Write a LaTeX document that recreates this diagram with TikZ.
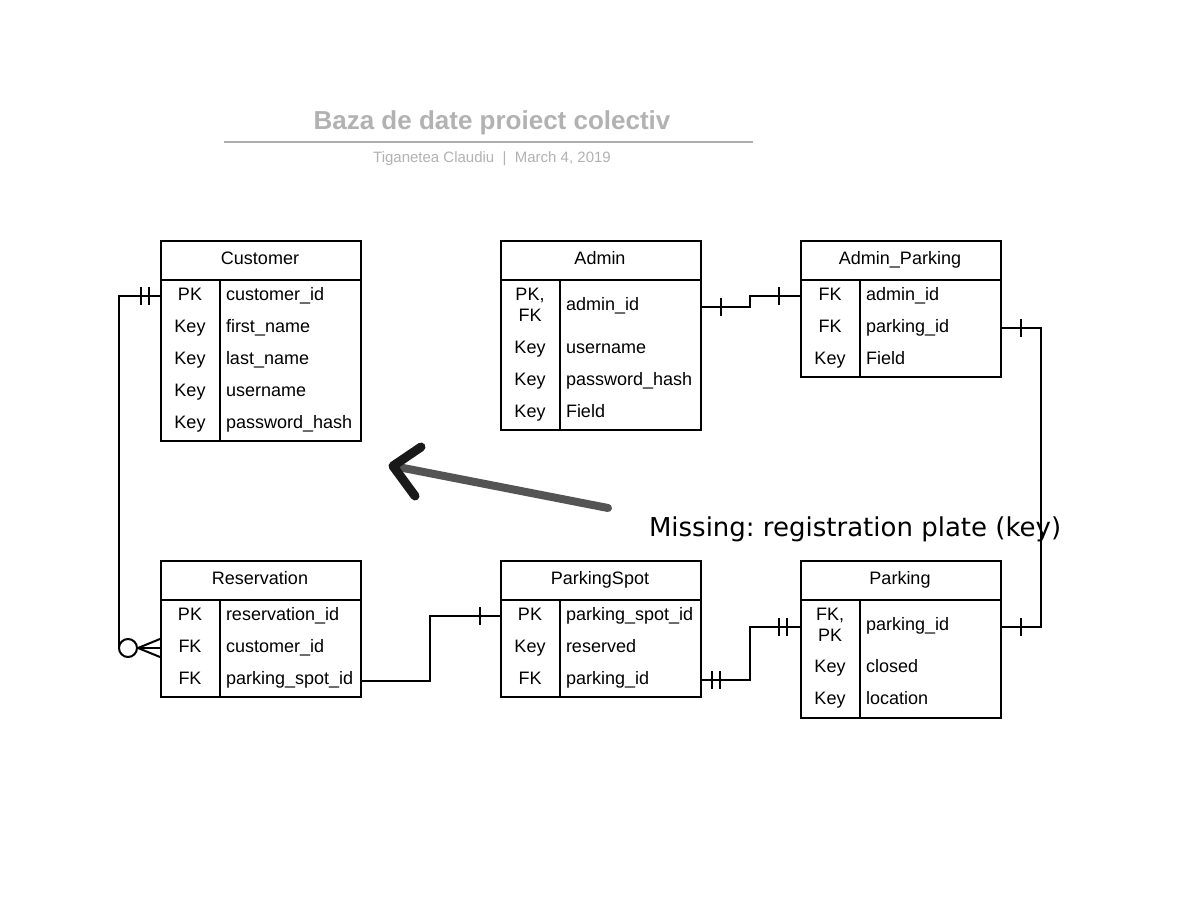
\documentclass[tikz,border=0pt]{standalone}
\usepackage{fontspec}
\setmainfont{Liberation Sans}
\newfontfamily\dejavu{DejaVu Sans}
\frenchspacing
\begin{document}
\begin{tikzpicture}[x=1pt,y=-1pt,line width=2pt,
  tbl/.style={draw,line width=2pt,anchor=north west,inner sep=0pt,minimum width=200pt},
  ktxt/.style={font=\fontsize{18}{20}\selectfont,anchor=base,inner sep=0pt},
  ftxt/.style={font=\fontsize{18}{20}\selectfont,anchor=base west,inner sep=0pt},
  conn/.style={line width=2pt},
  bar/.style={line width=2pt}]
\useasboundingbox (0,0) rectangle (1203,918);
\fill[white] (0,0) rectangle (1203,918);

% title
\node[font=\fontsize{26}{28}\selectfont\bfseries,text=black!30,anchor=base,inner sep=0pt] (title) at (492,129) {Baza de date proiect colectiv};
\draw[black!32,line width=2pt] (224,142) coordinate (tl) -- (753,142) coordinate (tr);
\node[font=\fontsize{15}{17}\selectfont,text=black!30,anchor=base,inner sep=0pt] (sub) at (492,162) {Tiganetea Claudiu~~|~~March 4, 2019};

% Customer
\node[tbl,minimum height=200pt] (customer) at (160,240) {};
\draw (160,280) -- (360,280); \draw (220,280) -- (220,440);
\node[ktxt] (customer-h) at (260,264.5) {Customer};
\node[ktxt] (c-k1) at (190,300.5) {PK};  \node[ftxt] (c-f1) at (225,300.5) {customer\_id};
\node[ktxt] (c-k2) at (190,332.5) {Key}; \node[ftxt] (c-f2) at (225,332.5) {first\_name};
\node[ktxt] (c-k3) at (190,364.5) {Key}; \node[ftxt] (c-f3) at (225,364.5) {last\_name};
\node[ktxt] (c-k4) at (190,396.5) {Key}; \node[ftxt] (c-f4) at (225,396.5) {username};
\node[ktxt] (c-k5) at (190,428.5) {Key}; \node[ftxt] (c-f5) at (225,428.5) {password\_hash};

% Admin
\node[tbl,minimum height=189pt] (admin) at (500,240) {};
\draw (500,280) -- (700,280); \draw (560,280) -- (560,429);
\node[ktxt] (admin-h) at (600,264.5) {Admin};
\node[ktxt] (a-k1a) at (530,300.5) {PK,};
\node[ktxt] (a-k1b) at (530,321.5) {FK};
\node[ftxt] (a-f1) at (565,310.5) {admin\_id};
\node[ktxt] (a-k2) at (530,353.5) {Key}; \node[ftxt] (a-f2) at (565,353.5) {username};
\node[ktxt] (a-k3) at (530,385.5) {Key}; \node[ftxt] (a-f3) at (565,385.5) {password\_hash};
\node[ktxt] (a-k4) at (530,417.5) {Key}; \node[ftxt] (a-f4) at (565,417.5) {Field};

% Admin_Parking
\node[tbl,minimum height=136pt] (adminparking) at (800,240) {};
\draw (800,280) -- (1000,280); \draw (860,280) -- (860,376);
\node[ktxt] (ap-h) at (900,264.5) {Admin\_Parking};
\node[ktxt] (ap-k1) at (830,300.5) {FK};  \node[ftxt] (ap-f1) at (865,300.5) {admin\_id};
\node[ktxt] (ap-k2) at (830,332.5) {FK};  \node[ftxt] (ap-f2) at (865,332.5) {parking\_id};
\node[ktxt] (ap-k3) at (830,364.5) {Key}; \node[ftxt] (ap-f3) at (865,364.5) {Field};

% Reservation
\node[tbl,minimum height=136pt] (reservation) at (160,560) {};
\draw (160,600) -- (360,600); \draw (220,600) -- (220,696);
\node[ktxt] (r-h) at (260,584.5) {Reservation};
\node[ktxt] (r-k1) at (190,620.5) {PK}; \node[ftxt] (r-f1) at (225,620.5) {reservation\_id};
\node[ktxt] (r-k2) at (190,652.5) {FK}; \node[ftxt] (r-f2) at (225,652.5) {customer\_id};
\node[ktxt] (r-k3) at (190,684.5) {FK}; \node[ftxt] (r-f3) at (225,684.5) {parking\_spot\_id};

% ParkingSpot
\node[tbl,minimum height=136pt] (parkingspot) at (500,560) {};
\draw (500,600) -- (700,600); \draw (560,600) -- (560,696);
\node[ktxt] (ps-h) at (600,584.5) {ParkingSpot};
\node[ktxt] (ps-k1) at (530,620.5) {PK};  \node[ftxt] (ps-f1) at (565,620.5) {parking\_spot\_id};
\node[ktxt] (ps-k2) at (530,652.5) {Key}; \node[ftxt] (ps-f2) at (565,652.5) {reserved};
\node[ktxt] (ps-k3) at (530,684.5) {FK};  \node[ftxt] (ps-f3) at (565,684.5) {parking\_id};

% Parking
\node[tbl,minimum height=157pt] (parking) at (800,560) {};
\draw (800,600) -- (1000,600); \draw (860,600) -- (860,717);
\node[ktxt] (p-h) at (900,584.5) {Parking};
\node[ktxt] (p-k1a) at (830,620.5) {FK,};
\node[ktxt] (p-k1b) at (830,641.5) {PK};
\node[ftxt] (p-f1) at (865,630.5) {parking\_id};
\node[ktxt] (p-k2) at (830,672.5) {Key}; \node[ftxt] (p-f2) at (865,672.5) {closed};
\node[ktxt] (p-k3) at (830,704.5) {Key}; \node[ftxt] (p-f3) at (865,704.5) {location};

% connector end points
\coordinate (cpk) at (160,296);
\coordinate (rcid) at (160,648);
\coordinate (rpsid) at (360,681);
\coordinate (pspk) at (500,616);
\coordinate (pspid) at (700,680);
\coordinate (ppk) at (800,627);
\coordinate (ppk2) at (1000,627);
\coordinate (aid) at (700,307);
\coordinate (apaid) at (800,296);
\coordinate (appid) at (1000,328);

% Customer -> Reservation
\draw[conn] (cpk) -- (119,296) -- (119,648);
\draw[bar] (141,287) -- (141,305); \draw[bar] (149,287) -- (149,305);
\draw[conn] (138,648) -- (rcid);
\draw[conn] (138,648) -- (160,639);
\draw[conn] (138,648) -- (160,657);
\draw[conn,fill=white] (128,648) circle (9);

% Reservation -> ParkingSpot
\draw[conn] (rpsid) -- (430,681) -- (430,616) -- (pspk);
\draw[bar] (480,607) -- (480,625);

% ParkingSpot -> Parking
\draw[conn] (pspid) -- (750,680) -- (750,627) -- (ppk);
\draw[bar] (712,671) -- (712,689); \draw[bar] (720,671) -- (720,689);
\draw[bar] (779,618) -- (779,636); \draw[bar] (787,618) -- (787,636);

% Admin -> Admin_Parking
\draw[conn] (aid) -- (750,307) -- (750,296) -- (apaid);
\draw[bar] (721,298) -- (721,316);
\draw[bar] (779,287) -- (779,305);

% Admin_Parking -> Parking
\draw[conn] (appid) -- (1041,328) -- (1041,627) -- (ppk2);
\draw[bar] (1021,319) -- (1021,337);
\draw[bar] (1021,618) -- (1021,636);

% annotation arrow
\coordinate (arrS) at (608,508);
\coordinate (arrT) at (393,466);
\draw[line width=8pt,line cap=round,color=black!67] (arrS) -- (arrT);
\draw[line width=9pt,line cap=round,line join=round,color=black!90] (421,447) -- (arrT) -- (415,496);
\node[font=\dejavu\fontsize{26}{28}\selectfont,anchor=base west,inner sep=0pt] (missing) at (648,536) {Missing: registration plate (key)};
\end{tikzpicture}
\end{document}
